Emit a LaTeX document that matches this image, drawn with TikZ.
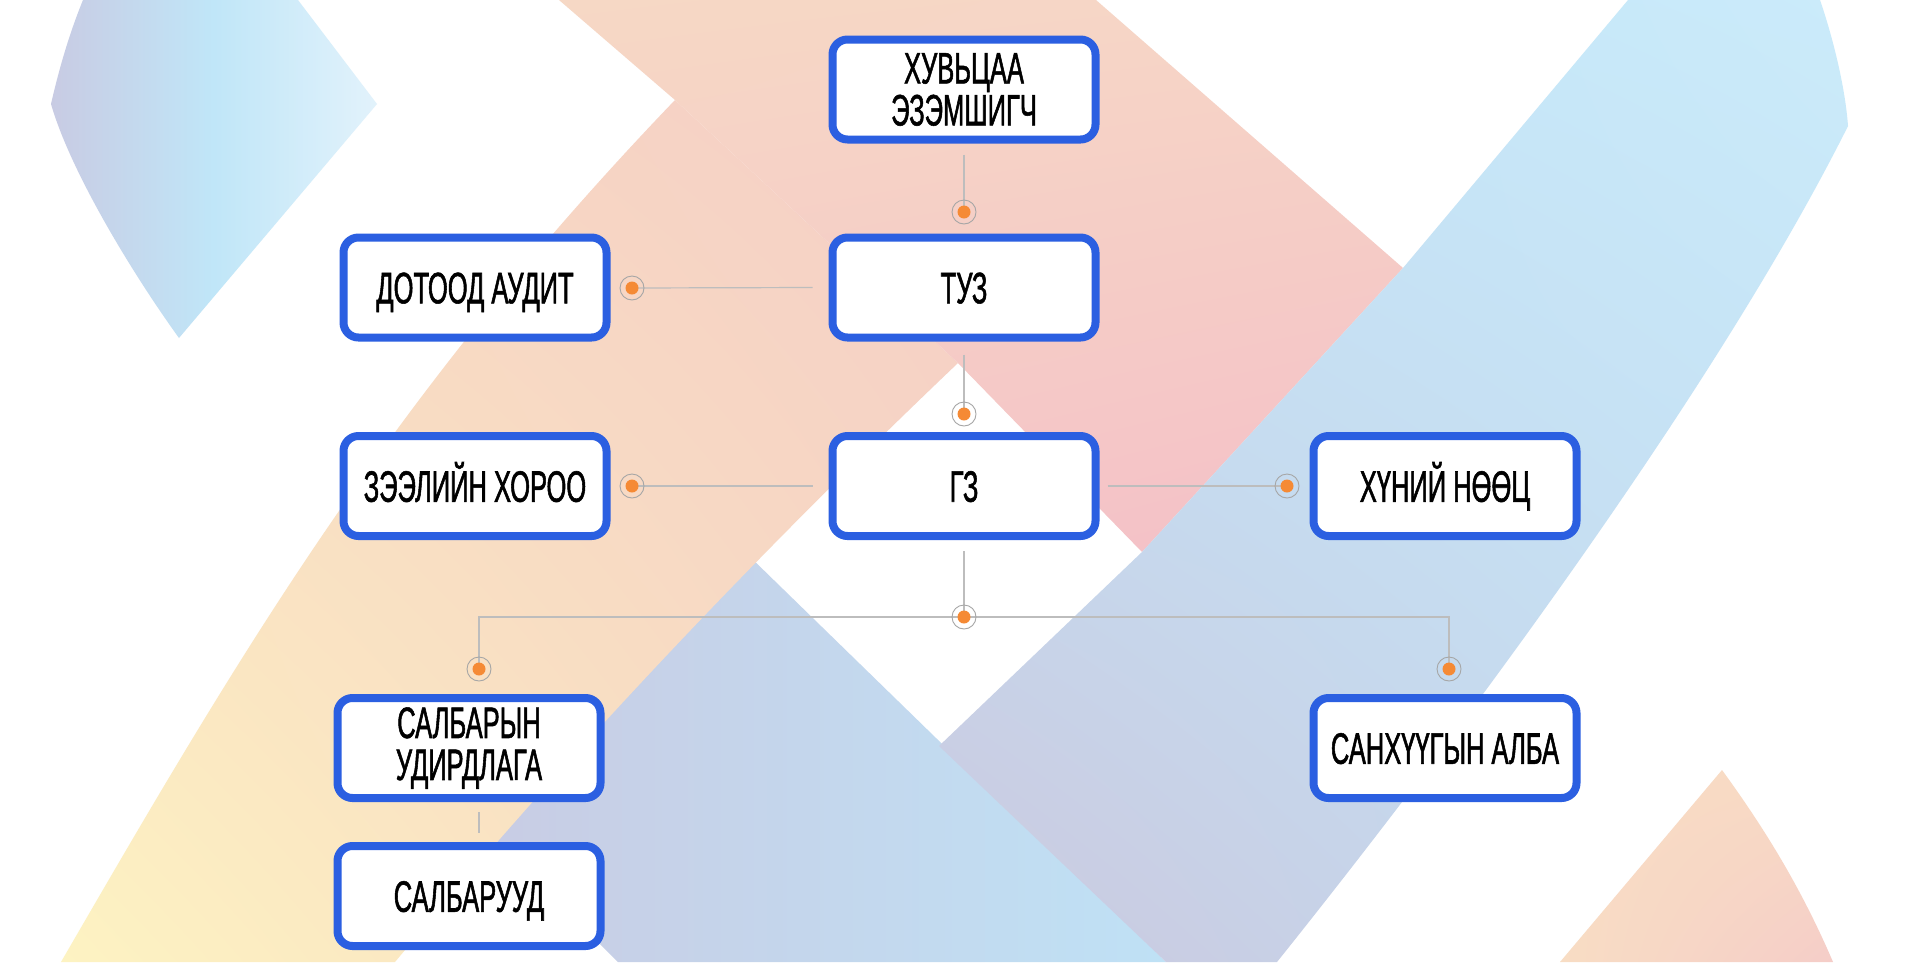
\documentclass[tikz,border=0pt]{standalone}
\usepackage{fontspec}
\newfontfamily\boxfont{Liberation Sans}[FakeStretch=0.58, FakeBold=1.2]
\usetikzlibrary{calc,shadows,shadings}
\definecolor{boxblue}{HTML}{2B5FE1}
\definecolor{dotorange}{HTML}{F58A35}
\definecolor{ringgray}{HTML}{A6A6A6}
\definecolor{linegray}{HTML}{BDBDBD}
\definecolor{tlL}{HTML}{C8CBE3}
\definecolor{tlM}{HTML}{C0E6F8}
\definecolor{tlR}{HTML}{E2F2FB}
\definecolor{pbUL}{HTML}{F6D8C5}
\definecolor{pbUR}{HTML}{F6D5C6}
\definecolor{pbLL}{HTML}{F5C8C7}
\definecolor{pbLR}{HTML}{F4BFC7}
\definecolor{pyUL}{HTML}{F8D9C2}
\definecolor{pyUR}{HTML}{F5CFC6}
\definecolor{pyLL}{HTML}{FDF3C2}
\definecolor{pyLR}{HTML}{F7D8C3}
\definecolor{bbUL}{HTML}{C0E4F8}
\definecolor{bbUR}{HTML}{CBEBFA}
\definecolor{bbLL}{HTML}{CCC8DE}
\definecolor{bbLR}{HTML}{C1DDF2}
\definecolor{bdL}{HTML}{C9CBE3}
\definecolor{bdR}{HTML}{BFE1F5}
\definecolor{brUL}{HTML}{F8DCC4}
\definecolor{brUR}{HTML}{F8DAC4}
\definecolor{brLL}{HTML}{F8DDC4}
\definecolor{brLR}{HTML}{F5CDC8}
\begin{document}
\begin{tikzpicture}[x=1pt,y=-1pt,
  box/.style={rectangle, rounded corners=15pt, draw=boxblue, line width=8pt,
    fill=white, minimum width=263pt, minimum height=100pt, inner sep=0pt,
    align=center, text=black,
    font=\boxfont\fontsize{44}{42}\selectfont,
    drop shadow={shadow xshift=2pt, shadow yshift=-3pt, opacity=0.13, fill=black}},
  one/.style={text height=31.5pt, text depth=0pt},
  conn/.style={draw=linegray, line width=1.2pt},
  dotnode/.style={circle, draw=ringgray, line width=0.9pt, minimum size=24pt,
    inner sep=0pt,
    path picture={\fill[dotorange] (path picture bounding box.center) circle[radius=6.5pt];}}
]
\useasboundingbox (0,0) rectangle (1925,962);
\fill[white] (0,0) rectangle (1925,962);

% background shapes
\path[left color=tlL, right color=tlR, middle color=tlM]
  (83,0) -- (298,0) -- (377,104) -- (179,338)
  .. controls (130,270) and (70,170) .. (51,104)
  .. controls (60,65) and (70,32) .. (83,0) -- cycle;

\path[left color=bdL, right color=bdR]
  (745,552) -- (1166,962) -- (618,962) -- (440,784) -- cycle;

\path[upper left=pyUL, upper right=pyUR, lower left=pyLL, lower right=pyLR]
  (675,100) -- (958,363) .. controls (748,563) and (561,762) .. (395,962)
  -- (61,962) .. controls (235,662) and (387,400) .. (675,100) -- cycle;

\path[upper left=pbUL, upper right=pbUR, lower left=pbLL, lower right=pbLR]
  (559,0) -- (1096,0) -- (1403,268) -- (1142,552) -- (958,363) -- (675,100) -- cycle;

\path[upper left=bbUL, upper right=bbUR, lower left=bbLL, lower right=bbLR]
  (1628,0) -- (1820,0) .. controls (1832,35) and (1845,85) .. (1848,126)
  .. controls (1723,376) and (1477,712) .. (1277,962) -- (1166,962)
  -- (939,746) -- (1142,552) -- (1403,268) -- cycle;

\path[upper left=brUL, upper right=brUR, lower left=brLL, lower right=brLR]
  (1722,770) .. controls (1762,825) and (1800,885) .. (1833,962) -- (1560,962) -- cycle;

% boxes
\node[box] (sh) at (964,89.5) {ХУВЬЦАА\\ЭЗЭМШИГЧ};
\node[box, one] (tuz) at (964,287.5) {ТУЗ};
\node[box, one] (gz) at (964,486) {ГЗ};
\node[box, one] (audit) at (475,287.5) {ДОТООД АУДИТ};
\node[box, one] (zeel) at (475,486) {ЗЭЭЛИЙН ХОРОО};
\node[box, one, text depth=-12pt] (hun) at (1445,486) {ХҮНИЙ НӨӨЦ};
\node[box] (salb) at (469,748) {САЛБАРЫН\\УДИРДЛАГА};
\node[box, one] (salbs) at (469,896) {САЛБАРУУД};
\node[box, one] (sanh) at (1445,748) {САНХҮҮГЫН АЛБА};

% dot positions
\coordinate (c1) at (964,212);
\coordinate (c2) at (964,414);
\coordinate (c3) at (632,288);
\coordinate (c4) at (632,486);
\coordinate (c5) at (1287,486);
\coordinate (c6) at (964,617);
\coordinate (c7) at (479,669);
\coordinate (c8) at (1449,669);

% connectors
\draw[conn] ($(sh.south)+(0,11)$) -- (c1);
\draw[conn] ($(tuz.south)+(0,13)$) -- (c2);
\draw[conn] (c3) -- ($(tuz.west)+(-16,0)$);
\draw[conn] (c4) -- ($(gz.west)+(-16,0)$);
\draw[conn] ($(gz.east)+(8,0)$) -- (c5);
\draw[conn] ($(gz.south)+(0,11)$) -- (c6);
\draw[conn] (c7) |- (c6) -| (c8);
\draw[conn] ($(salb.south)+(10,10)$) -- ($(salbs.north)+(10,-9)$);

% dots
\node[dotnode] (d1) at (c1) {};
\node[dotnode] (d2) at (c2) {};
\node[dotnode] (d3) at (c3) {};
\node[dotnode] (d4) at (c4) {};
\node[dotnode] (d5) at (c5) {};
\node[dotnode] (d6) at (c6) {};
\node[dotnode] (d7) at (c7) {};
\node[dotnode] (d8) at (c8) {};
\end{tikzpicture}
\end{document}
